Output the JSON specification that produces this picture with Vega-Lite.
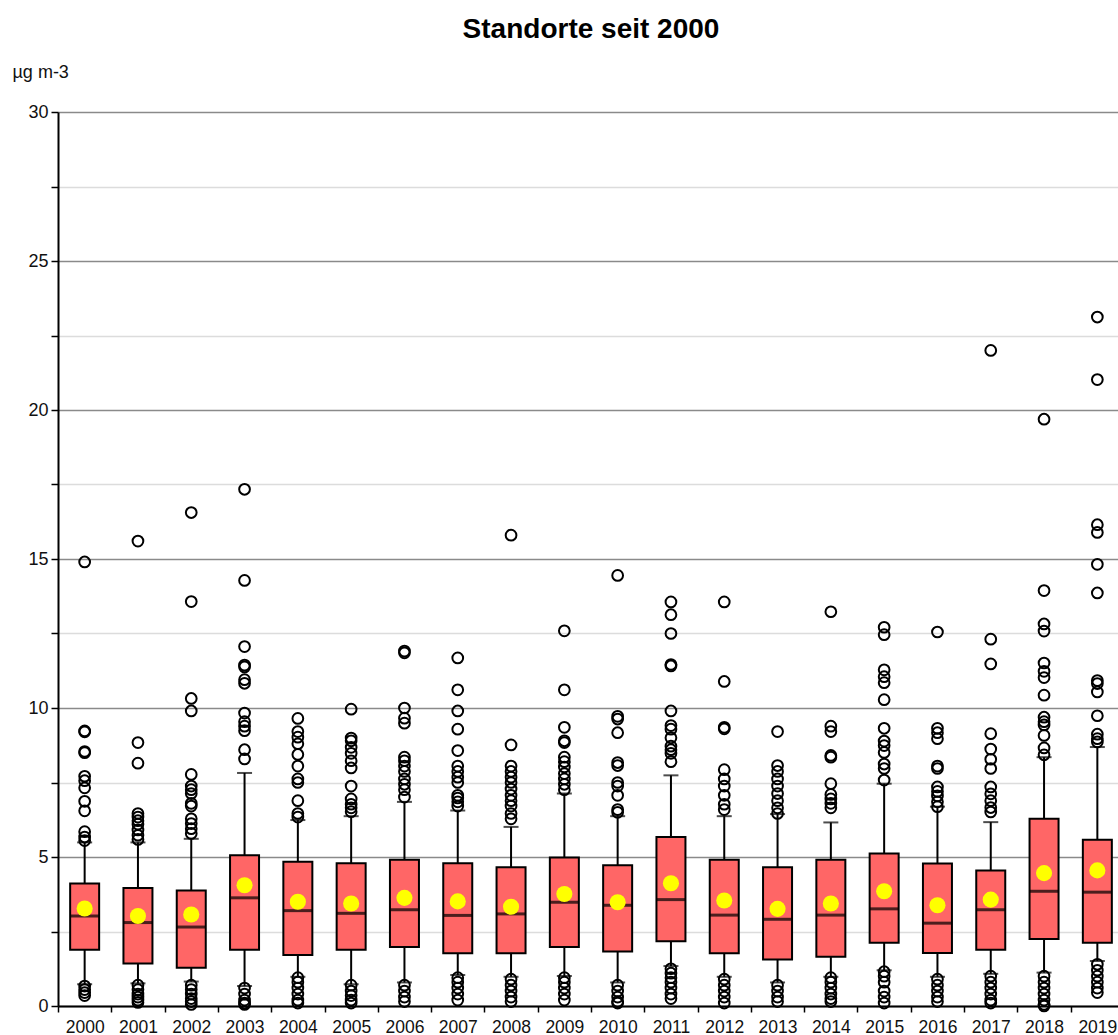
{
  "$schema": "https://vega.github.io/schema/vega-lite/v6.json",
  "autosize": {"type": "none"},
  "padding": {"left": 58, "top": 112, "right": -6, "bottom": 29},
  "width": 1066,
  "height": 894,
  "background": "white",
  "title": {"text": "Standorte seit 2000", "fontSize": 28, "fontWeight": "bold", "font": "Liberation Sans", "color": "#000", "anchor": "middle", "frame": "group", "baseline": "alphabetic", "offset": -3},
  "config": {
    "view": {"stroke": null},
    "font": "Liberation Sans",
    "axisX": {"tickBand": "extent", "tickSize": 6, "tickColor": "#000", "tickWidth": 1.5, "domainColor": "#000", "domainWidth": 2, "labelFontSize": 17.5, "labelColor": "#111", "labelPadding": 6, "labelAngle": 0, "grid": false, "title": null},
    "axisY": {"tickSize": 7, "tickColor": "#000", "tickWidth": 1.5, "domainColor": "#000", "domainWidth": 2, "labelFontSize": 18, "labelColor": "#111", "labelPadding": 3}
  },
  "datasets": {
    "stats": [
      {"year": "2000", "lo": 0.73, "q1": 1.89, "med": 3.02, "q3": 4.11, "hi": 5.49, "mean": 3.27},
      {"year": "2001", "lo": 0.76, "q1": 1.43, "med": 2.80, "q3": 3.96, "hi": 5.49, "mean": 3.02},
      {"year": "2002", "lo": 0.82, "q1": 1.28, "med": 2.65, "q3": 3.88, "hi": 5.61, "mean": 3.07},
      {"year": "2003", "lo": 0.67, "q1": 1.89, "med": 3.63, "q3": 5.06, "hi": 7.82, "mean": 4.05},
      {"year": "2004", "lo": 0.98, "q1": 1.71, "med": 3.20, "q3": 4.84, "hi": 6.24, "mean": 3.50},
      {"year": "2005", "lo": 0.73, "q1": 1.89, "med": 3.11, "q3": 4.79, "hi": 6.37, "mean": 3.44},
      {"year": "2006", "lo": 0.79, "q1": 1.98, "med": 3.23, "q3": 4.91, "hi": 6.85, "mean": 3.63},
      {"year": "2007", "lo": 1.04, "q1": 1.77, "med": 3.04, "q3": 4.79, "hi": 6.56, "mean": 3.51},
      {"year": "2008", "lo": 0.98, "q1": 1.77, "med": 3.09, "q3": 4.66, "hi": 6.01, "mean": 3.33},
      {"year": "2009", "lo": 1.01, "q1": 1.98, "med": 3.48, "q3": 4.98, "hi": 7.13, "mean": 3.76},
      {"year": "2010", "lo": 0.79, "q1": 1.83, "med": 3.38, "q3": 4.72, "hi": 6.37, "mean": 3.48},
      {"year": "2011", "lo": 1.34, "q1": 2.17, "med": 3.57, "q3": 5.67, "hi": 7.74, "mean": 4.12},
      {"year": "2012", "lo": 0.98, "q1": 1.77, "med": 3.05, "q3": 4.91, "hi": 6.37, "mean": 3.54},
      {"year": "2013", "lo": 0.79, "q1": 1.56, "med": 2.91, "q3": 4.66, "hi": 6.44, "mean": 3.26},
      {"year": "2014", "lo": 0.98, "q1": 1.65, "med": 3.05, "q3": 4.91, "hi": 6.16, "mean": 3.44},
      {"year": "2015", "lo": 1.20, "q1": 2.12, "med": 3.26, "q3": 5.12, "hi": 7.46, "mean": 3.85},
      {"year": "2016", "lo": 0.98, "q1": 1.78, "med": 2.78, "q3": 4.78, "hi": 6.69, "mean": 3.38},
      {"year": "2017", "lo": 1.08, "q1": 1.89, "med": 3.23, "q3": 4.55, "hi": 6.17, "mean": 3.57},
      {"year": "2018", "lo": 1.12, "q1": 2.25, "med": 3.85, "q3": 6.28, "hi": 8.35, "mean": 4.46},
      {"year": "2019", "lo": 1.51, "q1": 2.12, "med": 3.82, "q3": 5.58, "hi": 8.69, "mean": 4.55}
    ],
    "out": [
      {"year": "2000", "v": 14.9}, {"year": "2000", "v": 9.23}, {"year": "2000", "v": 9.2}, {"year": "2000", "v": 8.54}, {"year": "2000", "v": 8.5}, {"year": "2000", "v": 7.71}, {"year": "2000", "v": 7.56}, {"year": "2000", "v": 7.32}, {"year": "2000", "v": 6.87}, {"year": "2000", "v": 6.55}, {"year": "2000", "v": 5.85}, {"year": "2000", "v": 5.67}, {"year": "2000", "v": 5.55}, {"year": "2000", "v": 0.67}, {"year": "2000", "v": 0.55}, {"year": "2000", "v": 0.45}, {"year": "2000", "v": 0.35},
      {"year": "2001", "v": 15.6}, {"year": "2001", "v": 8.84}, {"year": "2001", "v": 8.15}, {"year": "2001", "v": 6.46}, {"year": "2001", "v": 6.34}, {"year": "2001", "v": 6.22}, {"year": "2001", "v": 6.1}, {"year": "2001", "v": 5.91}, {"year": "2001", "v": 5.73}, {"year": "2001", "v": 5.59}, {"year": "2001", "v": 0.7}, {"year": "2001", "v": 0.55}, {"year": "2001", "v": 0.4}, {"year": "2001", "v": 0.3}, {"year": "2001", "v": 0.2}, {"year": "2001", "v": 0.12},
      {"year": "2002", "v": 16.56}, {"year": "2002", "v": 13.57}, {"year": "2002", "v": 10.32}, {"year": "2002", "v": 9.9}, {"year": "2002", "v": 7.77}, {"year": "2002", "v": 7.38}, {"year": "2002", "v": 7.26}, {"year": "2002", "v": 7.13}, {"year": "2002", "v": 6.8}, {"year": "2002", "v": 6.71}, {"year": "2002", "v": 6.28}, {"year": "2002", "v": 6.12}, {"year": "2002", "v": 5.95}, {"year": "2002", "v": 5.79}, {"year": "2002", "v": 0.7}, {"year": "2002", "v": 0.55}, {"year": "2002", "v": 0.4}, {"year": "2002", "v": 0.25}, {"year": "2002", "v": 0.15}, {"year": "2002", "v": 0.05},
      {"year": "2003", "v": 17.34}, {"year": "2003", "v": 14.28}, {"year": "2003", "v": 12.06}, {"year": "2003", "v": 11.44}, {"year": "2003", "v": 11.38}, {"year": "2003", "v": 10.95}, {"year": "2003", "v": 10.83}, {"year": "2003", "v": 9.83}, {"year": "2003", "v": 9.54}, {"year": "2003", "v": 9.39}, {"year": "2003", "v": 9.24}, {"year": "2003", "v": 8.6}, {"year": "2003", "v": 8.29}, {"year": "2003", "v": 0.6}, {"year": "2003", "v": 0.4}, {"year": "2003", "v": 0.2}, {"year": "2003", "v": 0.1}, {"year": "2003", "v": 0.05},
      {"year": "2004", "v": 9.65}, {"year": "2004", "v": 9.21}, {"year": "2004", "v": 9.02}, {"year": "2004", "v": 8.8}, {"year": "2004", "v": 8.44}, {"year": "2004", "v": 8.05}, {"year": "2004", "v": 7.62}, {"year": "2004", "v": 7.5}, {"year": "2004", "v": 6.89}, {"year": "2004", "v": 6.46}, {"year": "2004", "v": 6.34}, {"year": "2004", "v": 0.95}, {"year": "2004", "v": 0.8}, {"year": "2004", "v": 0.6}, {"year": "2004", "v": 0.4}, {"year": "2004", "v": 0.2}, {"year": "2004", "v": 0.1},
      {"year": "2005", "v": 9.96}, {"year": "2005", "v": 8.99}, {"year": "2005", "v": 8.9}, {"year": "2005", "v": 8.68}, {"year": "2005", "v": 8.48}, {"year": "2005", "v": 8.23}, {"year": "2005", "v": 7.99}, {"year": "2005", "v": 7.38}, {"year": "2005", "v": 6.95}, {"year": "2005", "v": 6.77}, {"year": "2005", "v": 6.65}, {"year": "2005", "v": 6.52}, {"year": "2005", "v": 0.7}, {"year": "2005", "v": 0.5}, {"year": "2005", "v": 0.35}, {"year": "2005", "v": 0.2}, {"year": "2005", "v": 0.1},
      {"year": "2006", "v": 11.91}, {"year": "2006", "v": 11.85}, {"year": "2006", "v": 10.0}, {"year": "2006", "v": 9.66}, {"year": "2006", "v": 9.49}, {"year": "2006", "v": 8.35}, {"year": "2006", "v": 8.23}, {"year": "2006", "v": 8.05}, {"year": "2006", "v": 7.87}, {"year": "2006", "v": 7.62}, {"year": "2006", "v": 7.44}, {"year": "2006", "v": 7.26}, {"year": "2006", "v": 7.01}, {"year": "2006", "v": 0.7}, {"year": "2006", "v": 0.5}, {"year": "2006", "v": 0.3}, {"year": "2006", "v": 0.15},
      {"year": "2007", "v": 11.68}, {"year": "2007", "v": 10.61}, {"year": "2007", "v": 9.9}, {"year": "2007", "v": 9.29}, {"year": "2007", "v": 8.57}, {"year": "2007", "v": 8.05}, {"year": "2007", "v": 7.87}, {"year": "2007", "v": 7.68}, {"year": "2007", "v": 7.5}, {"year": "2007", "v": 7.07}, {"year": "2007", "v": 6.98}, {"year": "2007", "v": 6.85}, {"year": "2007", "v": 6.71}, {"year": "2007", "v": 0.95}, {"year": "2007", "v": 0.8}, {"year": "2007", "v": 0.6}, {"year": "2007", "v": 0.4}, {"year": "2007", "v": 0.2},
      {"year": "2008", "v": 15.8}, {"year": "2008", "v": 8.76}, {"year": "2008", "v": 8.05}, {"year": "2008", "v": 7.87}, {"year": "2008", "v": 7.68}, {"year": "2008", "v": 7.5}, {"year": "2008", "v": 7.28}, {"year": "2008", "v": 7.07}, {"year": "2008", "v": 6.89}, {"year": "2008", "v": 6.71}, {"year": "2008", "v": 6.46}, {"year": "2008", "v": 6.28}, {"year": "2008", "v": 0.9}, {"year": "2008", "v": 0.7}, {"year": "2008", "v": 0.5}, {"year": "2008", "v": 0.3}, {"year": "2008", "v": 0.15},
      {"year": "2009", "v": 12.59}, {"year": "2009", "v": 10.61}, {"year": "2009", "v": 9.35}, {"year": "2009", "v": 8.9}, {"year": "2009", "v": 8.84}, {"year": "2009", "v": 8.35}, {"year": "2009", "v": 8.2}, {"year": "2009", "v": 8.02}, {"year": "2009", "v": 7.8}, {"year": "2009", "v": 7.62}, {"year": "2009", "v": 7.44}, {"year": "2009", "v": 7.26}, {"year": "2009", "v": 0.95}, {"year": "2009", "v": 0.8}, {"year": "2009", "v": 0.6}, {"year": "2009", "v": 0.4}, {"year": "2009", "v": 0.2},
      {"year": "2010", "v": 14.45}, {"year": "2010", "v": 9.72}, {"year": "2010", "v": 9.63}, {"year": "2010", "v": 9.17}, {"year": "2010", "v": 8.17}, {"year": "2010", "v": 8.07}, {"year": "2010", "v": 7.5}, {"year": "2010", "v": 7.38}, {"year": "2010", "v": 7.07}, {"year": "2010", "v": 6.59}, {"year": "2010", "v": 6.5}, {"year": "2010", "v": 0.7}, {"year": "2010", "v": 0.5}, {"year": "2010", "v": 0.3}, {"year": "2010", "v": 0.15}, {"year": "2010", "v": 0.1},
      {"year": "2011", "v": 13.56}, {"year": "2011", "v": 13.13}, {"year": "2011", "v": 12.5}, {"year": "2011", "v": 11.46}, {"year": "2011", "v": 11.41}, {"year": "2011", "v": 9.9}, {"year": "2011", "v": 9.41}, {"year": "2011", "v": 9.29}, {"year": "2011", "v": 9.0}, {"year": "2011", "v": 8.72}, {"year": "2011", "v": 8.6}, {"year": "2011", "v": 8.48}, {"year": "2011", "v": 8.2}, {"year": "2011", "v": 1.25}, {"year": "2011", "v": 1.1}, {"year": "2011", "v": 0.95}, {"year": "2011", "v": 0.8}, {"year": "2011", "v": 0.6}, {"year": "2011", "v": 0.4}, {"year": "2011", "v": 0.25},
      {"year": "2012", "v": 13.56}, {"year": "2012", "v": 10.89}, {"year": "2012", "v": 9.35}, {"year": "2012", "v": 9.3}, {"year": "2012", "v": 7.93}, {"year": "2012", "v": 7.62}, {"year": "2012", "v": 7.38}, {"year": "2012", "v": 7.07}, {"year": "2012", "v": 6.77}, {"year": "2012", "v": 6.59}, {"year": "2012", "v": 0.9}, {"year": "2012", "v": 0.7}, {"year": "2012", "v": 0.5}, {"year": "2012", "v": 0.3}, {"year": "2012", "v": 0.1},
      {"year": "2013", "v": 9.21}, {"year": "2013", "v": 8.07}, {"year": "2013", "v": 7.87}, {"year": "2013", "v": 7.62}, {"year": "2013", "v": 7.38}, {"year": "2013", "v": 7.13}, {"year": "2013", "v": 6.89}, {"year": "2013", "v": 6.65}, {"year": "2013", "v": 6.46}, {"year": "2013", "v": 0.7}, {"year": "2013", "v": 0.5}, {"year": "2013", "v": 0.3}, {"year": "2013", "v": 0.15},
      {"year": "2014", "v": 13.23}, {"year": "2014", "v": 9.39}, {"year": "2014", "v": 9.21}, {"year": "2014", "v": 8.41}, {"year": "2014", "v": 8.35}, {"year": "2014", "v": 7.46}, {"year": "2014", "v": 7.1}, {"year": "2014", "v": 6.95}, {"year": "2014", "v": 6.8}, {"year": "2014", "v": 6.65}, {"year": "2014", "v": 0.95}, {"year": "2014", "v": 0.8}, {"year": "2014", "v": 0.6}, {"year": "2014", "v": 0.4}, {"year": "2014", "v": 0.25}, {"year": "2014", "v": 0.15},
      {"year": "2015", "v": 12.71}, {"year": "2015", "v": 12.46}, {"year": "2015", "v": 11.28}, {"year": "2015", "v": 11.05}, {"year": "2015", "v": 10.85}, {"year": "2015", "v": 10.28}, {"year": "2015", "v": 9.32}, {"year": "2015", "v": 8.89}, {"year": "2015", "v": 8.74}, {"year": "2015", "v": 8.51}, {"year": "2015", "v": 8.12}, {"year": "2015", "v": 7.97}, {"year": "2015", "v": 7.58}, {"year": "2015", "v": 1.15}, {"year": "2015", "v": 1.0}, {"year": "2015", "v": 0.8}, {"year": "2015", "v": 0.5}, {"year": "2015", "v": 0.3}, {"year": "2015", "v": 0.1},
      {"year": "2016", "v": 12.55}, {"year": "2016", "v": 9.32}, {"year": "2016", "v": 9.17}, {"year": "2016", "v": 8.97}, {"year": "2016", "v": 8.05}, {"year": "2016", "v": 7.97}, {"year": "2016", "v": 7.35}, {"year": "2016", "v": 7.2}, {"year": "2016", "v": 7.05}, {"year": "2016", "v": 6.85}, {"year": "2016", "v": 6.69}, {"year": "2016", "v": 0.9}, {"year": "2016", "v": 0.7}, {"year": "2016", "v": 0.5}, {"year": "2016", "v": 0.3}, {"year": "2016", "v": 0.15},
      {"year": "2017", "v": 22.0}, {"year": "2017", "v": 12.31}, {"year": "2017", "v": 11.48}, {"year": "2017", "v": 9.14}, {"year": "2017", "v": 8.62}, {"year": "2017", "v": 8.28}, {"year": "2017", "v": 7.97}, {"year": "2017", "v": 7.35}, {"year": "2017", "v": 7.12}, {"year": "2017", "v": 6.89}, {"year": "2017", "v": 6.66}, {"year": "2017", "v": 6.51}, {"year": "2017", "v": 1.0}, {"year": "2017", "v": 0.8}, {"year": "2017", "v": 0.6}, {"year": "2017", "v": 0.4}, {"year": "2017", "v": 0.2}, {"year": "2017", "v": 0.1},
      {"year": "2018", "v": 19.69}, {"year": "2018", "v": 13.94}, {"year": "2018", "v": 12.82}, {"year": "2018", "v": 12.58}, {"year": "2018", "v": 11.51}, {"year": "2018", "v": 11.23}, {"year": "2018", "v": 11.02}, {"year": "2018", "v": 10.43}, {"year": "2018", "v": 9.69}, {"year": "2018", "v": 9.54}, {"year": "2018", "v": 9.43}, {"year": "2018", "v": 9.08}, {"year": "2018", "v": 8.66}, {"year": "2018", "v": 8.43}, {"year": "2018", "v": 1.0}, {"year": "2018", "v": 0.8}, {"year": "2018", "v": 0.6}, {"year": "2018", "v": 0.4}, {"year": "2018", "v": 0.2}, {"year": "2018", "v": 0.05}, {"year": "2018", "v": 0.0},
      {"year": "2019", "v": 23.12}, {"year": "2019", "v": 21.02}, {"year": "2019", "v": 16.15}, {"year": "2019", "v": 15.89}, {"year": "2019", "v": 14.82}, {"year": "2019", "v": 13.86}, {"year": "2019", "v": 10.92}, {"year": "2019", "v": 10.82}, {"year": "2019", "v": 10.54}, {"year": "2019", "v": 9.74}, {"year": "2019", "v": 9.12}, {"year": "2019", "v": 8.97}, {"year": "2019", "v": 8.86}, {"year": "2019", "v": 1.4}, {"year": "2019", "v": 1.2}, {"year": "2019", "v": 1.0}, {"year": "2019", "v": 0.8}, {"year": "2019", "v": 0.6}, {"year": "2019", "v": 0.45}
    ]
  },
  "encoding": {
    "x": {"field": "year", "type": "ordinal", "scale": {"paddingInner": 0, "paddingOuter": 0}}
  },
  "layer": [
    {
      "data": {"name": "stats"},
      "mark": {"type": "rule", "color": "#000", "strokeWidth": 2},
      "encoding": {
        "y": {"field": "lo", "type": "quantitative", "scale": {"domain": [0, 30], "nice": false, "zero": false},
          "axis": {"values": [0, 2.5, 5, 7.5, 10, 12.5, 15, 17.5, 20, 22.5, 25, 27.5, 30],
            "labelExpr": "datum.value % 5 === 0 ? datum.label : ''",
            "grid": true, "gridWidth": 1.5,
            "gridColor": {"condition": {"test": "datum.value % 5 === 0", "value": "#8a8a8a"}, "value": "#dcdcdc"},
            "title": "µg m-3", "titleAngle": 0, "titleX": -46, "titleY": -40, "titleAlign": "left", "titleBaseline": "middle", "titleFontWeight": "normal", "titleFontSize": 18, "titleColor": "#111"}},
        "y2": {"field": "hi"}
      }
    },
    {
      "data": {"name": "stats"},
      "mark": {"type": "tick", "color": "#000", "size": 15, "thickness": 2},
      "encoding": {"y": {"field": "lo", "type": "quantitative"}}
    },
    {
      "data": {"name": "stats"},
      "mark": {"type": "tick", "color": "#000", "size": 15, "thickness": 2},
      "encoding": {"y": {"field": "hi", "type": "quantitative"}}
    },
    {
      "data": {"name": "stats"},
      "mark": {"type": "bar", "size": 29, "fill": "#ff6666", "stroke": "#000", "strokeWidth": 2},
      "encoding": {"y": {"field": "q1", "type": "quantitative"}, "y2": {"field": "q3"}}
    },
    {
      "data": {"name": "stats"},
      "mark": {"type": "tick", "color": "#000", "size": 29, "thickness": 3},
      "encoding": {"y": {"field": "med", "type": "quantitative"}}
    },
    {
      "data": {"name": "out"},
      "mark": {"type": "point", "shape": "circle", "filled": false, "stroke": "#000", "strokeWidth": 2, "size": 115, "opacity": 1},
      "encoding": {"y": {"field": "v", "type": "quantitative"}}
    },
    {
      "data": {"name": "stats"},
      "mark": {"type": "point", "shape": "circle", "filled": true, "color": "#ffff00", "size": 260, "opacity": 1, "strokeWidth": 0},
      "encoding": {"y": {"field": "mean", "type": "quantitative"}}
    }
  ]
}
